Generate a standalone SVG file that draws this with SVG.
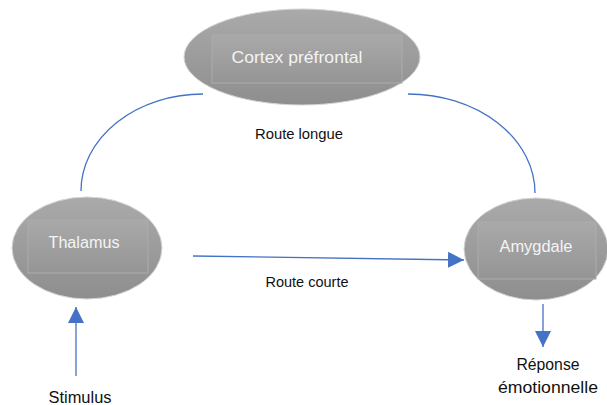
<svg xmlns="http://www.w3.org/2000/svg" width="607" height="405" viewBox="0 0 607 405">
<defs>
<linearGradient id="gE" x1="0" y1="0" x2="0" y2="1">
<stop offset="0" stop-color="#aaaaaa"/>
<stop offset="1" stop-color="#8e8e8e"/>
</linearGradient>
<linearGradient id="gR" x1="0" y1="0" x2="0" y2="1">
<stop offset="0" stop-color="#a9a9a9"/>
<stop offset="1" stop-color="#959595"/>
</linearGradient>
<marker id="ah" viewBox="0 0 10 10" refX="10" refY="5" markerWidth="16" markerHeight="16" markerUnits="userSpaceOnUse" orient="auto">
<path d="M0,0 L10,5 L0,10 Z" fill="#4472c4"/>
</marker>
</defs>
<style>
.ell{fill:url(#gE);stroke:#d4d4d4;stroke-width:1}
.box{fill:url(#gR);stroke:#acacac;stroke-width:1}
.nt{font-family:"Liberation Sans",Arial,sans-serif;fill:#f4f4f4;text-anchor:middle}
.lt{font-family:"Liberation Sans",Arial,sans-serif;fill:#111111;text-anchor:middle}
.ln{fill:none;stroke:#4472c4;stroke-width:1.3}
</style>
<rect width="607" height="405" fill="#ffffff"/>
<g id="cortex">
<ellipse class="ell" cx="302" cy="57" rx="118" ry="48"/>
<rect class="box" x="212" y="35" width="190" height="48"/>
<text class="nt" x="297" y="63" font-size="17" textLength="131" lengthAdjust="spacingAndGlyphs">Cortex préfrontal</text>
</g>
<g id="thalamus">
<ellipse class="ell" cx="87" cy="248" rx="75" ry="51"/>
<rect class="box" x="28" y="220" width="120" height="53"/>
<text class="nt" x="84" y="248" font-size="16" textLength="71" lengthAdjust="spacingAndGlyphs">Thalamus</text>
</g>
<g id="amygdale">
<ellipse class="ell" cx="536" cy="249" rx="72" ry="51"/>
<rect class="box" x="478" y="222" width="118" height="57"/>
<text class="nt" x="536" y="252" font-size="16" textLength="73" lengthAdjust="spacingAndGlyphs">Amygdale</text>
</g>
<g id="connectors">
<path class="ln" d="M81,191 A122,97 0 0 1 203,94"/>
<path class="ln" d="M408,94 A127,99 0 0 1 535,193"/>
<path class="ln" d="M193,256 L464,260" marker-end="url(#ah)"/>
<path class="ln" d="M76,376 L76,307" marker-end="url(#ah)"/>
<path class="ln" d="M543,304 L543,347" marker-end="url(#ah)"/>
</g>
<g id="labels">
<text class="lt" x="299" y="139" font-size="14.5" textLength="88" lengthAdjust="spacingAndGlyphs">Route longue</text>
<text class="lt" x="307" y="287" font-size="14.5" textLength="83" lengthAdjust="spacingAndGlyphs">Route courte</text>
<text class="lt" x="80" y="403" font-size="16" textLength="63" lengthAdjust="spacingAndGlyphs">Stimulus</text>
<text class="lt" x="548" y="370" font-size="16" textLength="63" lengthAdjust="spacingAndGlyphs">Réponse</text>
<text class="lt" x="548" y="393" font-size="16" textLength="100" lengthAdjust="spacingAndGlyphs">émotionnelle</text>
</g>
</svg>
